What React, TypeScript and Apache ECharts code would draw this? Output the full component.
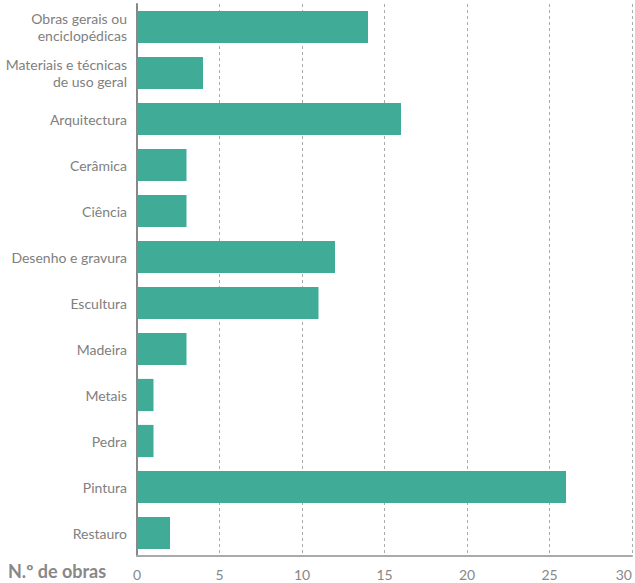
import React, { useEffect, useRef } from "react";
import * as echarts from "echarts";

const categories = [
  "Obras gerais ou\nenciclopédicas",
  "Materiais e técnicas\nde uso geral",
  "Arquitectura",
  "Cerâmica",
  "Ciência",
  "Desenho e gravura",
  "Escultura",
  "Madeira",
  "Metais",
  "Pedra",
  "Pintura",
  "Restauro",
];
const values = [14, 4, 16, 3, 3, 12, 11, 3, 1, 1, 26, 2];
const axisTitle = "N.º de obras";

export default function App() {
  const ref = useRef<HTMLDivElement>(null);
  useEffect(() => {
    const chart = echarts.init(ref.current!, null, { renderer: "svg" });
    chart.setOption({
      animation: false,
      textStyle: { fontFamily: "Lato" },
      grid: { left: 137, right: 3, top: 4, bottom: 27, containLabel: false },
      xAxis: {
        type: "value",
        min: 0,
        max: 30,
        interval: 5,
        axisLine: { show: true, lineStyle: { color: "#aaaaaa", width: 2 } },
        axisTick: { show: false },
        axisLabel: { color: "#888888", fontSize: 14, margin: 11, alignMaxLabel: "right" },
        splitLine: { show: true, lineStyle: { color: "#aaaaaa", type: [3, 3], width: 1 } },
      },
      yAxis: {
        type: "category",
        inverse: true,
        data: categories,
        axisLine: { show: true, lineStyle: { color: "#888888", width: 2 } },
        axisTick: { show: false },
        axisLabel: { color: "#808080", fontSize: 14, margin: 10, lineHeight: 17, align: "right" },
        splitLine: { show: false },
      },
      series: [
        {
          type: "bar",
          data: values,
          barCategoryGap: "30%",
          itemStyle: { color: "#40ab97" },
        },
      ],
      graphic: [
        {
          type: "text",
          left: 8,
          top: 562,
          style: {
            text: axisTitle,
            fill: "#888888",
            font: "bold 18px Lato",
          },
        },
      ],
    });
    return () => chart.dispose();
  }, []);
  return <div ref={ref} style={{ width: 635, height: 583, position: "absolute", left: 0, top: 0 }} />;
}
